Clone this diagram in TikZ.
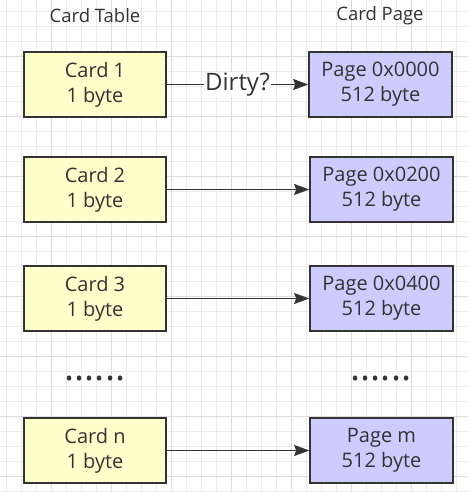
\documentclass[tikz,border=0pt]{standalone}
\usepackage{fontspec}
\setmainfont{Open Sans}
\usepackage{xcolor}
\usepackage{tikz}
\usetikzlibrary{arrows.meta}
\definecolor{cardyellow}{HTML}{FFFFCC}
\definecolor{pageblue}{HTML}{CCCCFF}
\definecolor{inkgray}{HTML}{333333}
\definecolor{gridminor}{HTML}{EBEBEB}
\definecolor{gridmajor}{HTML}{DCDCDC}
\tikzset{cardbox/.style={draw=inkgray,line width=1.6pt,fill=cardyellow,
           minimum width=142pt,minimum height=65pt,align=center,
           text=inkgray,font=\fontsize{20}{25}\selectfont},
         pagebox/.style={cardbox,fill=pageblue,minimum width=143pt},
         title/.style={text=inkgray,font=\fontsize{18.5}{22}\selectfont},
         moredots/.style={text=inkgray,font=\fontsize{38}{38}\selectfont},
         link/.style={draw=inkgray,line width=1.6pt,-{Stealth[length=15pt,width=11pt,inset=2pt]}}}

\begin{document}
\begin{tikzpicture}[x=1pt,y=-1pt]
\useasboundingbox (0,0) rectangle (468,492);
\fill[white] (0,0) rectangle (468,492);
% background grid
\foreach \gx in {6.7,21.7,...,468} \draw[gridminor,line width=0.9pt] (\gx,0)--(\gx,492);
\foreach \gy in {11.7,26.7,...,492} \draw[gridminor,line width=0.9pt] (0,\gy)--(468,\gy);
\foreach \gx in {51.7,111.7,...,468} \draw[gridmajor,line width=0.9pt] (\gx,0)--(\gx,492);
\foreach \gy in {56.7,116.7,...,492} \draw[gridmajor,line width=0.9pt] (0,\gy)--(468,\gy);

\node[title] (tabletitle) at (95,16) {Card Table};
\node[title] (pagetitle) at (380,16) {Card Page};

\node[cardbox] (card1) at (95,84.5) {Card 1\\1 byte};
\node[cardbox] (card2) at (95,189.5) {Card 2\\1 byte};
\node[cardbox] (card3) at (95,298.5) {Card 3\\1 byte};
\node[cardbox] (cardn) at (95,450.5) {Card n\\1 byte};

\node[pagebox] (page1) at (380.5,84.5) {Page 0x0000\\512 byte};
\node[pagebox] (page2) at (381.5,189.5) {Page 0x0200\\512 byte};
\node[pagebox] (page3) at (381.5,298.5) {Page 0x0400\\512 byte};
\node[pagebox] (pagem) at (381.5,450.5) {Page m\\512 byte};

\node[moredots] (ldots) at (95,379) {......};
\node[moredots] (rdots) at (381,379) {......};

\draw[link] (card1) -- node[fill=white,inner sep=1pt,text=inkgray,
  font=\fontsize{24}{24}\selectfont] (dirty) {Dirty?} (page1);
\draw[link] (card2) -- (page2);
\draw[link] (card3) -- (page3);
\draw[link] (cardn) -- (pagem);
\end{tikzpicture}
\end{document}
